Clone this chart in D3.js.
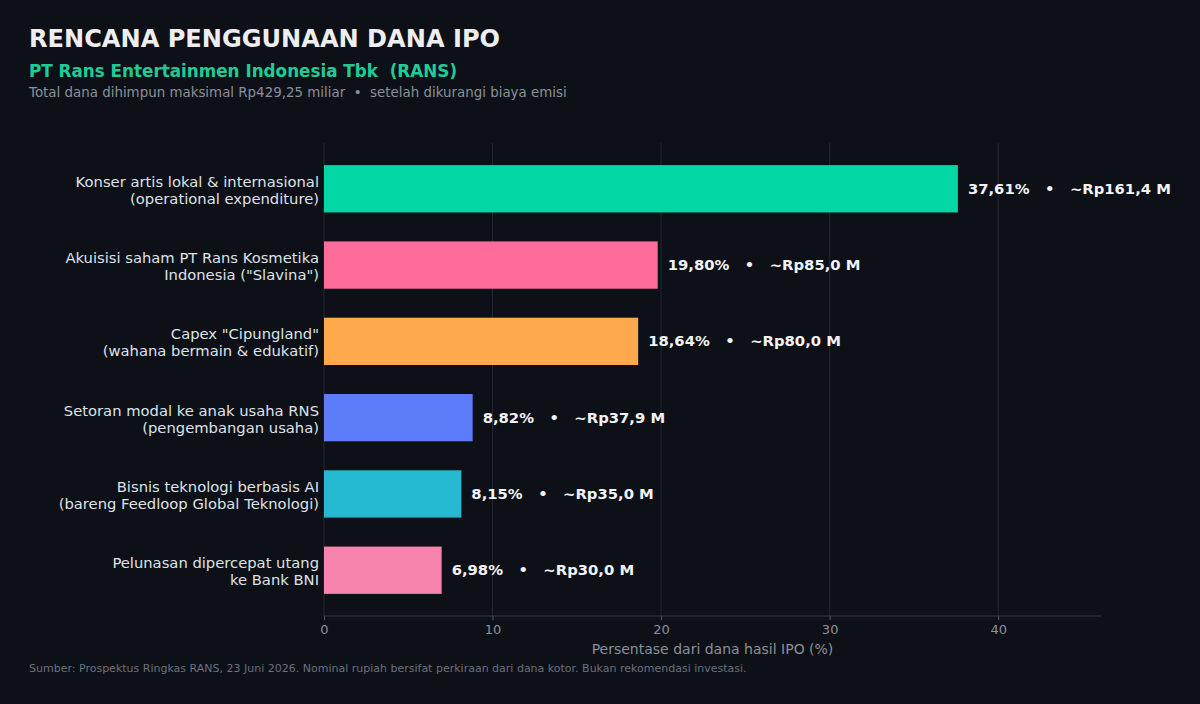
<!DOCTYPE html>
<html>
<head>
<meta charset="utf-8">
<script src="https://cdn.jsdelivr.net/npm/d3@7"></script>
<style>
  html, body { margin: 0; padding: 0; background: #0d1017; }
  svg { display: block; font-family: "DejaVu Sans", sans-serif; }
</style>
</head>
<body>
<svg id="chart" width="1200" height="704"></svg>
<script>
// Chart data.
const categories = [
  ["Konser artis lokal & internasional", "(operational expenditure)"],
  ["Akuisisi saham PT Rans Kosmetika", "Indonesia (\"Slavina\")"],
  ["Capex \"Cipungland\"", "(wahana bermain & edukatif)"],
  ["Setoran modal ke anak usaha RNS", "(pengembangan usaha)"],
  ["Bisnis teknologi berbasis AI", "(bareng Feedloop Global Teknologi)"],
  ["Pelunasan dipercepat utang", "ke Bank BNI"]
];
const percents = [37.61, 19.80, 18.64, 8.82, 8.15, 6.98];
const rupiah = [161.4, 85.0, 80.0, 37.9, 35.0, 30.0];
const colors = ["#03d7a6", "#ff6b9b", "#ffa94d", "#5c7cfa", "#25b9d2", "#f784ac"];
const ticks = [0, 10, 20, 30, 40];

const svg = d3.select("#chart");
const W = 1200, H = 704;
const m = { left: 324, right: 1101, top: 143, bottom: 616 };

svg.append("rect").attr("width", W).attr("height", H).attr("fill", "#0d1017");

const x = d3.scaleLinear().domain([0, 46.1]).range([m.left, m.right]);
// band layout mimics matplotlib barh: ylim -0.6 .. n-0.4, bar height 0.62
const n = categories.length;
const y = d3.scaleLinear().domain([-0.6, n - 0.4]).range([m.top, m.bottom]);
const barH = 0.62;
const fmt = v => v.toFixed(2).replace(".", ",");
const fmt1 = v => v.toFixed(1).replace(".", ",");

// grid
svg.append("g").selectAll("line").data(ticks).join("line")
  .attr("x1", d => x(d)).attr("x2", d => x(d))
  .attr("y1", m.top).attr("y2", m.bottom)
  .attr("stroke", "#232833").attr("stroke-width", 1);

// bottom axis
const axis = svg.append("g").attr("transform", `translate(0,${m.bottom})`)
  .call(d3.axisBottom(x).tickValues(ticks).tickSize(4).tickPadding(5));
axis.select(".domain").remove();
axis.append("line").attr("x1", m.left).attr("x2", m.right)
  .attr("stroke", "#363c47").attr("stroke-width", 1);
axis.selectAll(".tick line").attr("stroke", "#5a606b");
axis.selectAll(".tick text").attr("fill", "#8a909a")
  .attr("font-size", 13).attr("font-family", "DejaVu Sans");

svg.append("text").attr("x", (m.left + m.right) / 2).attr("y", 654)
  .attr("text-anchor", "middle").attr("fill", "#8a909a").attr("font-size", 14)
  .text("Persentase dari dana hasil IPO (%)");

// bars
svg.append("g").selectAll("rect").data(percents).join("rect")
  .attr("x", x(0))
  .attr("y", (d, i) => y(i - barH / 2))
  .attr("width", d => x(d) - x(0))
  .attr("height", y(barH) - y(0))
  .attr("fill", (d, i) => colors[i]);

// value labels
svg.append("g").selectAll("text").data(percents).join("text")
  .attr("x", d => x(d) + 10)
  .attr("y", (d, i) => y(i) + 5)
  .attr("fill", "#f1f3f6").attr("font-size", 14.8).attr("font-weight", "bold")
  .attr("xml:space", "preserve")
  .style("white-space", "pre")
  .text((d, i) => `${fmt(d)}%   •   ~Rp${fmt1(rupiah[i])} M`);

// category labels
const cat = svg.append("g").selectAll("text").data(categories).join("text")
  .attr("x", 319)
  .attr("y", (d, i) => y(i))
  .attr("text-anchor", "end").attr("fill", "#dee2e8").attr("font-size", 14.75);
cat.selectAll("tspan").data(d => d).join("tspan")
  .attr("x", 319)
  .attr("dy", (d, j) => j === 0 ? -2 : 17)
  .text(d => d);

// titles
svg.append("text").attr("x", 29).attr("y", 47)
  .attr("fill", "#eceef2").attr("font-size", 24.1).attr("font-weight", "bold")
  .text("RENCANA PENGGUNAAN DANA IPO");
svg.append("text").attr("x", 29).attr("y", 77)
  .attr("fill", "#1fcc99").attr("font-size", 16.8).attr("font-weight", "bold")
  .attr("xml:space", "preserve").style("white-space", "pre")
  .text("PT Rans Entertainmen Indonesia Tbk  (RANS)");
svg.append("text").attr("x", 29).attr("y", 97)
  .attr("fill", "#8b919b").attr("font-size", 13.4)
  .attr("xml:space", "preserve").style("white-space", "pre")
  .text("Total dana dihimpun maksimal Rp429,25 miliar  •  setelah dikurangi biaya emisi");
svg.append("text").attr("x", 29).attr("y", 672)
  .attr("fill", "#6b717c").attr("font-size", 11)
  .text("Sumber: Prospektus Ringkas RANS, 23 Juni 2026. Nominal rupiah bersifat perkiraan dari dana kotor. Bukan rekomendasi investasi.");
</script>
</body>
</html>
